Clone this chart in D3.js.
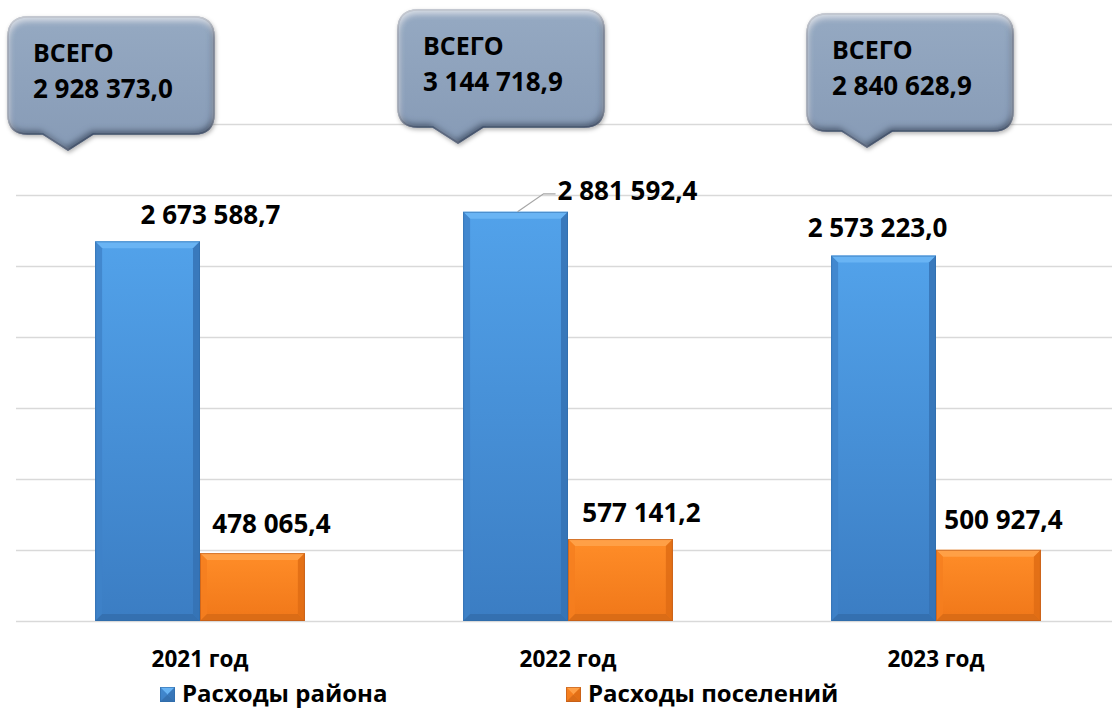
<!DOCTYPE html>
<html>
<head>
<meta charset="utf-8">
<script src="https://cdn.jsdelivr.net/npm/d3@7"></script>
<style>
  html, body { margin: 0; padding: 0; background: #fff; }
  svg text { font-family: "Open Sans", "Noto Sans", sans-serif; font-weight: bold; fill: #000; }
</style>
</head>
<body>
<div id="chart"></div>
<script>
// data
var years = ["2021 год", "2022 год", "2023 год"];
var seriesNames = ["Расходы района", "Расходы поселений"];
var rayon = [2673588.7, 2881592.4, 2573223.0];
var poseleniya = [478065.4, 577141.2, 500927.4];
var totals = [2928373.0, 3144718.9, 2840628.9];
var gridTicks = [0, 500000, 1000000, 1500000, 2000000, 2500000, 3000000, 3500000];

// layout tweaks for labels (offset from bar centre / bar top)
var labelShift = [
  [[63, -17], [19, -20]],
  [[112, -12], [21, -17]],
  [[-6, -19], [15, -21]]
];
var calloutShift = [[-132, 150], [-110, 143], [-69, 147]];

var W = 1112, H = 709;
var fmt = function(v) {
  var s = v.toFixed(1).split(".");
  return s[0].replace(/\B(?=(\d{3})+(?!\d))/g, " ") + "," + s[1];
};

var svg = d3.select("#chart").append("svg")
  .attr("width", W)
  .attr("height", H);

var defs = svg.append("defs");

function vGrad(id, stops) {
  var g = defs.append("linearGradient").attr("id", id)
    .attr("x1", 0).attr("y1", 0).attr("x2", 0).attr("y2", 1);
  stops.forEach(function(s) { g.append("stop").attr("offset", s[0]).attr("stop-color", s[1]); });
}
vGrad("gBlue", [[0, "#52a2ea"], [1, "#3b7dc3"]]);
vGrad("gOrange", [[0, "#ff8d28"], [1, "#f07719"]]);
vGrad("gCallout", [[0, "#95a9c2"], [0.5, "#8ea2bc"], [1, "#879bb6"]]);

// bevel filter for callouts
var f = defs.append("filter").attr("id", "bevel")
  .attr("x", "-10%").attr("y", "-10%").attr("width", "125%").attr("height", "130%");
f.append("feGaussianBlur").attr("in", "SourceAlpha").attr("stdDeviation", 3).attr("result", "blur");
f.append("feOffset").attr("in", "blur").attr("dx", -2).attr("dy", -4).attr("result", "offUp");
f.append("feComposite").attr("in", "SourceAlpha").attr("in2", "offUp").attr("operator", "out").attr("result", "bottomEdge");
f.append("feFlood").attr("flood-color", "#22344f").attr("flood-opacity", 0.85).attr("result", "darkC");
f.append("feComposite").attr("in", "darkC").attr("in2", "bottomEdge").attr("operator", "in").attr("result", "dark");
f.append("feOffset").attr("in", "blur").attr("dx", 1).attr("dy", 4).attr("result", "offDown");
f.append("feComposite").attr("in", "SourceAlpha").attr("in2", "offDown").attr("operator", "out").attr("result", "topEdge");
f.append("feFlood").attr("flood-color", "#ffffff").attr("flood-opacity", 0.6).attr("result", "lightC");
f.append("feComposite").attr("in", "lightC").attr("in2", "topEdge").attr("operator", "in").attr("result", "light");
f.append("feGaussianBlur").attr("in", "SourceAlpha").attr("stdDeviation", 2).attr("result", "sblur");
f.append("feOffset").attr("in", "sblur").attr("dx", 1).attr("dy", 2).attr("result", "soff");
f.append("feFlood").attr("flood-color", "#000").attr("flood-opacity", 0.3);
f.append("feComposite").attr("in2", "soff").attr("operator", "in").attr("result", "shadow");
var fm = f.append("feMerge");
["shadow", "SourceGraphic", "dark", "light"].forEach(function(n) { fm.append("feMergeNode").attr("in", n); });

// scales
var x0 = d3.scaleBand().domain(years).range([16, 1120]).paddingInner(0.43).paddingOuter(0.215);
var x1 = d3.scaleBand().domain(seriesNames).range([0, x0.bandwidth()]);
var y = d3.scaleLinear().domain([0, 3500000]).range([621, 124]);

// grid
svg.append("g").selectAll("line")
  .data(gridTicks)
  .enter().append("line")
  .attr("x1", 16).attr("x2", 1112)
  .attr("y1", function(d) { return Math.round(y(d)) + 0.5; })
  .attr("y2", function(d) { return Math.round(y(d)) + 0.5; })
  .attr("stroke", "#d9d9d9")
  .attr("stroke-width", 1.5);

// bevelled bar
function bevelBar(g, x, yt, w, h, kind) {
  var b = Math.min(7, h / 2);
  var base = kind === 0 ? "url(#gBlue)" : "url(#gOrange)";
  var edge = kind === 0 ? "#2f6aa8" : "#b9581a";
  g.append("rect").attr("x", x).attr("y", yt).attr("width", w).attr("height", h).attr("fill", base);
  // top
  g.append("polygon")
    .attr("points", [[x, yt], [x + w, yt], [x + w - b, yt + b], [x + b, yt + b]].join(" "))
    .attr("fill", kind === 0 ? "#6bb6f5" : "#ffa24a").attr("opacity", 0.9);
  // left
  g.append("polygon")
    .attr("points", [[x, yt], [x + b, yt + b], [x + b, yt + h - b], [x, yt + h]].join(" "))
    .attr("fill", kind === 0 ? "#3f82c8" : "#f57e1f").attr("opacity", 0.8);
  // right
  g.append("polygon")
    .attr("points", [[x + w, yt], [x + w - b, yt + b], [x + w - b, yt + h - b], [x + w, yt + h]].join(" "))
    .attr("fill", kind === 0 ? "#3572b4" : "#df6c14").attr("opacity", 0.85);
  // bottom
  g.append("polygon")
    .attr("points", [[x, yt + h], [x + b, yt + h - b], [x + w - b, yt + h - b], [x + w, yt + h]].join(" "))
    .attr("fill", kind === 0 ? "#346fae" : "#d86a16").attr("opacity", 0.9);
  g.append("rect").attr("x", x + 0.5).attr("y", yt + 0.5).attr("width", w - 1).attr("height", h - 1)
    .attr("fill", "none").attr("stroke", edge).attr("stroke-width", 1).attr("opacity", 0.6);
}

var series = [rayon, poseleniya];
years.forEach(function(yr, i) {
  var g = svg.append("g").attr("transform", "translate(" + x0(yr) + ",0)");
  series.forEach(function(s, k) {
    var bx = x1(seriesNames[k]);
    var bw = x1.bandwidth();
    var top = y(s[i]);
    bevelBar(g, bx, top, bw, y(0) - top, k);
    var lx = bx + bw / 2 + labelShift[i][k][0];
    var ly = top + labelShift[i][k][1];
    g.append("text")
      .attr("x", lx).attr("y", ly)
      .attr("text-anchor", "middle")
      .attr("font-size", 26)
      .text(fmt(s[i]));
    if (i === 1 && k === 0) {
      // leader line
      var cx = bx + bw / 2;
      g.append("polyline")
        .attr("points", [[cx + 2, top], [cx + 28, top - 18], [cx + 40, top - 18]].join(" "))
        .attr("fill", "none").attr("stroke", "#a6a6a6").attr("stroke-width", 1.2);
    }
  });
  // category label
  svg.append("text")
    .attr("x", x0(yr) + x0.bandwidth() / 2)
    .attr("y", 667)
    .attr("text-anchor", "middle")
    .attr("font-size", 22.5)
    .text(yr);
});

// callouts
years.forEach(function(yr, i) {
  var tx = x0(yr) + x0.bandwidth() / 2 + calloutShift[i][0];
  var ty = calloutShift[i][1];
  var L = tx - 60, R = tx + 146, T = ty - 133, B = ty - 16, r = 20;
  var p = d3.path();
  p.moveTo(L + r, T);
  p.lineTo(R - r, T);
  p.quadraticCurveTo(R, T, R, T + r);
  p.lineTo(R, B - r);
  p.quadraticCurveTo(R, B, R - r, B);
  p.lineTo(tx + 25, B);
  p.lineTo(tx, ty);
  p.lineTo(tx - 25, B);
  p.lineTo(L + r, B);
  p.quadraticCurveTo(L, B, L, B - r);
  p.lineTo(L, T + r);
  p.quadraticCurveTo(L, T, L + r, T);
  p.closePath();
  var cg = svg.append("g");
  cg.append("path").attr("d", p.toString())
    .attr("fill", "url(#gCallout)")
    .attr("stroke", "#4d6588").attr("stroke-width", 1.5)
    .attr("filter", "url(#bevel)");
  cg.append("text").attr("x", L + 25).attr("y", T + 45).attr("font-size", 25).text("ВСЕГО");
  cg.append("text").attr("x", L + 25).attr("y", T + 81).attr("font-size", 26).text(fmt(totals[i]));
});

// legend
var legX = [160, 566];
seriesNames.forEach(function(n, k) {
  var lg = svg.append("g").attr("transform", "translate(" + legX[k] + ",687)");
  bevelBar(lg, 0, 0, 15, 15, k);
  lg.append("text").attr("x", 22).attr("y", 15).attr("font-size", 24).text(n);
});
</script>
</body>
</html>
